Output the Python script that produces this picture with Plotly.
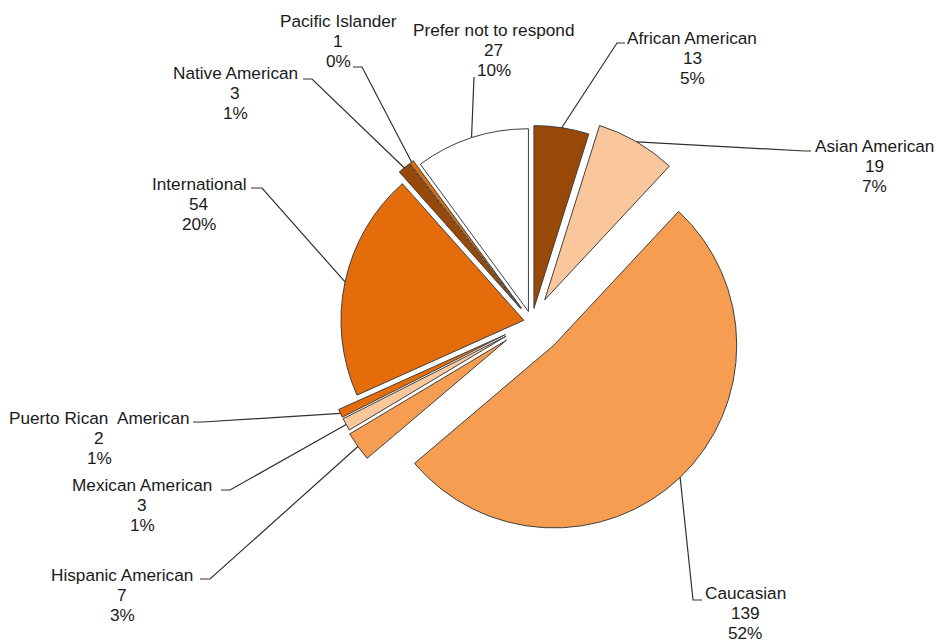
import math
import plotly.graph_objects as go

# ---------------- data ----------------
categories = ["African American", "Asian American", "Caucasian", "Hispanic American",
              "Mexican American", "Puerto Rican  American", "International",
              "Native American", "Pacific Islander", "Prefer not to respond"]
counts = [13, 19, 139, 7, 3, 2, 54, 3, 1, 27]

# ---------------- style ----------------
colors = ["#984807", "#FAC79C", "#F79D52", "#F79D52", "#FAC79C", "#E46C0A",
          "#E46C0A", "#984807", "#E46C0A", "#FFFFFF"]
pulls = [0.075, 0.14, 0.175, 0.17, 0.16, 0.16, 0.045, 0.095, 0.095, 0.06]

W, H = 938, 643
dom_x = [0.338, 0.796]
dom_y = [0.1649, 0.8336]
FONT = "Liberation Sans, Arial, sans-serif"
FS = 17.2
LINE_GAP = 20.3
TXT = "#1a1a1a"

# label layout (pixels): centre x, middle-line y, leader tail points (from elbow to text)
label_pos = [(692, 58), (874, 166), (745, 613), (122, 595), (142, 505),
             (99, 438), (199, 204), (235, 93), (338, 41), (494, 50)]
leader_tail = [
    [(617, 43), (625, 43)],
    [(805, 151), (811, 151)],
    [(693, 600), (702, 600)],
    [(210, 579), (200, 579)],
    [(230, 490), (221, 490)],
    [(203, 422), (193, 422)],
    [(262, 188), (251, 188)],
    [(312, 79), (303, 79)],
    [(362, 67), (353, 67)],
    [(474, 77)],
]

total = sum(counts)
pcts = [f"{round(100 * c / total)}%" for c in counts]

fig = go.Figure(go.Pie(
    labels=categories, values=counts, sort=False, direction="clockwise",
    rotation=0, pull=pulls, textinfo="none", hoverinfo="label+value+percent",
    marker=dict(colors=colors, line=dict(color="#404040", width=1)),
    domain=dict(x=dom_x, y=dom_y), showlegend=False,
))

# pie geometry, as plotly computes it
box_w = W * (dom_x[1] - dom_x[0])
box_h = H * (dom_y[1] - dom_y[0])
r = min(box_w, box_h) / (2 + 2 * max(pulls))
cx = W * (dom_x[0] + dom_x[1]) / 2
cy = H * (1 - dom_y[0]) - box_h / 2


def to_paper(p):
    return p[0] / W, 1 - p[1] / H


shapes = []
annotations = []
cum = 0
for i, c in enumerate(counts):
    mid = (cum + c / 2) / total * 2 * math.pi
    cum += c
    rr = r * (1 + pulls[i])
    arc = (cx + rr * math.sin(mid), cy - rr * math.cos(mid))
    pts = [arc] + leader_tail[i]
    path = ""
    for k, p in enumerate(pts):
        xp, yp = to_paper(p)
        path += ("M" if k == 0 else " L") + f" {xp:.5f} {yp:.5f}"
    shapes.append(dict(type="path", path=path, xref="paper", yref="paper",
                       line=dict(color="#303030", width=1.2)))
    lx, ly = label_pos[i]
    for k, t in enumerate([categories[i], str(c), pcts[i]]):
        xp, yp = to_paper((lx, ly + (k - 1) * LINE_GAP))
        annotations.append(dict(text=t, x=xp, y=yp, xref="paper", yref="paper",
                                xanchor="center", yanchor="middle", showarrow=False,
                                font=dict(family=FONT, size=FS, color=TXT)))

fig.update_layout(width=W, height=H, margin=dict(l=0, r=0, t=0, b=0),
                  paper_bgcolor="white", plot_bgcolor="white",
                  shapes=shapes, annotations=annotations)

fig.write_html("out.html", config={"displayModeBar": False},
               post_script="document.body.style.margin='0';")
